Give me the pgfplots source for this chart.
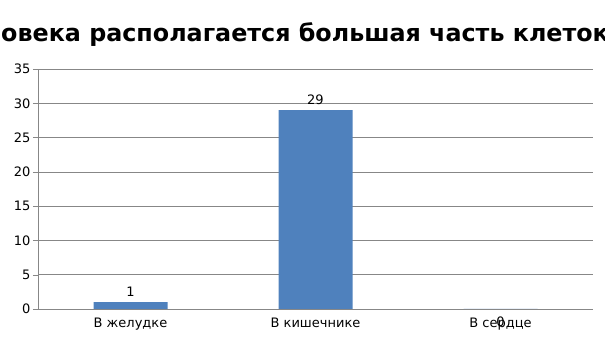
\documentclass[border=0pt]{standalone}
\usepackage{pgfplots}
\pgfplotsset{compat=1.18}
\usepackage{fontspec}
\setmainfont{DejaVu Sans}
\definecolor{barblue}{HTML}{4F81BD}
\definecolor{axgray}{HTML}{878787}
\begin{document}
\begin{tikzpicture}[x=1pt,y=1pt]
\clip (0,0) rectangle (605,340);
\path[use as bounding box] (0,0) rectangle (605,340);
\node[anchor=base west, inner sep=0pt, font={\fontsize{23.8}{28}\selectfont\bfseries}] at (1,298) {овека располагается большая часть клеток};
\begin{axis}[
  at={(38pt,31pt)}, anchor=south west,
  scale only axis, width=555pt, height=240pt,
  ybar, bar width=0.4, bar shift=0pt,
  xmin=-0.5, xmax=2.5, ymin=0, ymax=35,
  ytick={0,5,...,35},
  xtick={0,1,2},
  xticklabels={В желудке, В кишечнике, В сердце},
  major x tick style={draw=none},
  extra x ticks={-0.5,0.5,1.5,2.5},
  extra x tick labels={},
  extra x tick style={major tick length=7pt, tick style={draw=axgray}, grid=none},
  axis x line*=bottom, axis y line*=left,
  axis line style={draw=axgray, -},
  ytick style={draw=axgray},
  tick align=outside, major tick length=5pt,
  ymajorgrids, grid style={draw=axgray, line width=0.6pt},
  tick label style={font=\fontsize{13}{15}\selectfont, text=black},
  yticklabel style={xshift=1pt},
  xticklabel style={yshift=0pt},
  /pgf/number format/assume math mode=true,
  nodes near coords style={font=\fontsize{13}{15}\selectfont, text=black},
  clip=false,
]
\addplot[fill=barblue, draw=none, nodes near coords, nodes near coords style={anchor=south, yshift=2pt}] coordinates {(0,1) (1,29)};
\addplot[fill=barblue, draw=none, nodes near coords, nodes near coords style={anchor=north, yshift=-4pt}] coordinates {(2,0)};
\end{axis}
\end{tikzpicture}
\end{document}
